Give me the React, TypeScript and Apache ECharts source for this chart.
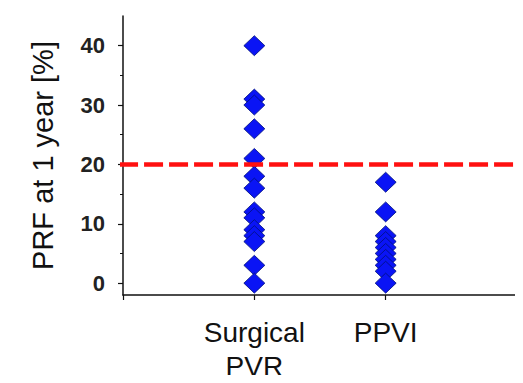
import React, { useEffect, useRef } from "react";
import * as echarts from "echarts";

const categories = ["Surgical\nPVR", "PPVI"];
const categoryPositions = [1, 2];
const surgicalValues = [40, 31, 30, 26, 21, 18, 16, 12, 11, 9, 8, 7, 3, 0];
const ppviValues = [17, 12, 8, 7, 6, 5, 4, 3, 2, 0];
const yTickLabels = [0, 10, 20, 30, 40];
const yMinorTicks = [5, 15, 25, 35];
const thresholdValue = 20;
const thresholdExtent = [-0.03, 3.05];

const FONT = "Liberation Sans, Arial, sans-serif";

export default function App() {
  const ref = useRef<HTMLDivElement>(null);
  useEffect(() => {
    if (!ref.current) return;
    const chart = echarts.init(ref.current, undefined, { renderer: "svg" });
    const markerStyle = {
      color: "#0a14f5",
      borderColor: "#00107a",
      borderWidth: 0.8,
      opacity: 1,
    };
    chart.setOption({
      animation: false,
      backgroundColor: "#ffffff",
      grid: { left: 123, right: 6, top: 16, bottom: 84, containLabel: false },
      xAxis: {
        type: "value",
        min: 0,
        max: 3,
        interval: 1,
        splitLine: { show: false },
        axisLine: { show: true, onZero: false, lineStyle: { color: "#111", width: 1.5 } },
        axisTick: {
          show: true,
          length: 5,
          customValues: [0, 1, 2, 3],
          lineStyle: { color: "#111", width: 1.2 },
        },
        axisLabel: {
          customValues: categoryPositions,
          formatter: (v: number) => {
            const i = categoryPositions.indexOf(v);
            return i >= 0 ? categories[i] : "";
          },
          fontFamily: FONT,
          fontSize: 28,
          lineHeight: 34,
          color: "#111",
          margin: 20,
        },
      },
      yAxis: [
        {
          type: "value",
          min: -2,
          max: 45,
          name: "PRF at 1 year [%]",
          nameLocation: "middle",
          nameGap: 66,
          nameTextStyle: { fontFamily: FONT, fontSize: 29, color: "#111" },
          splitLine: { show: false },
          axisLine: { show: true, onZero: false, lineStyle: { color: "#111", width: 1.5 } },
          axisTick: {
            show: true,
            length: 5,
            customValues: yTickLabels,
            lineStyle: { color: "#111", width: 1.2 },
          },
          axisLabel: {
            customValues: yTickLabels,
            fontFamily: FONT,
            fontSize: 22,
            fontWeight: "bold",
            color: "#222",
            margin: 18,
          },
        },
        {
          type: "value",
          min: -2,
          max: 45,
          position: "left",
          splitLine: { show: false },
          axisLine: { show: false, onZero: false },
          axisLabel: { show: false },
          axisTick: {
            show: true,
            length: 3,
            customValues: yMinorTicks,
            lineStyle: { color: "#111", width: 1 },
          },
        },
      ],
      series: [
        {
          type: "scatter",
          symbol: "diamond",
          symbolSize: [21, 20],
          itemStyle: markerStyle,
          z: 2,
          data: surgicalValues.map((v) => [categoryPositions[0], v]),
        },
        {
          type: "scatter",
          symbol: "diamond",
          symbolSize: [21, 20],
          itemStyle: markerStyle,
          z: 2,
          data: ppviValues.map((v) => [categoryPositions[1], v]),
        },
        {
          type: "line",
          clip: false,
          symbol: "none",
          z: 3,
          lineStyle: { color: "#ff1010", width: 4.5, type: [19, 6] },
          data: thresholdExtent.map((x) => [x, thresholdValue]),
        },
      ],
    });
    return () => chart.dispose();
  }, []);
  return <div ref={ref} style={{ width: 523, height: 383, margin: -8 }} />;
}
